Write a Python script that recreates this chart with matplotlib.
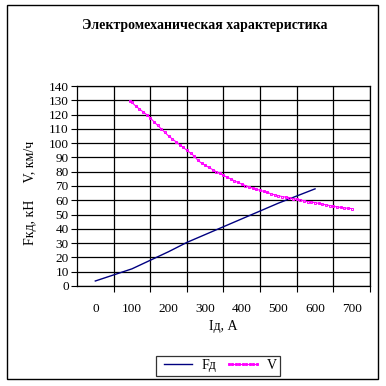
import matplotlib
matplotlib.use("Agg")
import matplotlib.pyplot as plt
from matplotlib.patches import Rectangle

plt.rcParams['font.family'] = ['Liberation Serif', 'DejaVu Serif']

# Fд, кН vs Iд, A
i_fd = [0, 100, 150, 200, 250, 300, 350, 400, 450, 500, 550, 600]
fd = [3.5, 12, 18, 24, 30.5, 36, 41.5, 47, 52.5, 58, 63, 68]

# V, км/ч vs Iд, A
i_v = [95, 100, 110, 120, 130, 140, 150, 160, 170, 180, 190, 200, 210, 220,
       230, 240, 250, 260, 270, 280, 290, 300, 310, 320, 330, 340, 350, 360,
       370, 380, 390, 400, 410, 420, 430, 440, 450, 460, 470, 480, 490, 500,
       510, 520, 530, 540, 550, 560, 570, 580, 590, 600, 610, 620, 630, 640,
       650, 660, 670, 680, 690, 700]
v = [129.4, 128.5, 126, 124, 122, 120, 117.7, 115, 112.5, 110, 107.5, 105,
     103, 101, 99, 97, 95, 93, 91, 88, 86, 84.5, 83, 81.5, 80, 78.8, 77.5, 76,
     75, 73.5, 72.5, 71.3, 70.3, 69.3, 68.5, 67.7, 67, 66.2, 65.5, 64.5, 63.8,
     63.2, 62.6, 62.2, 61.9, 61.2, 60.7, 60.2, 59.6, 59.1, 58.7, 58.4, 57.8,
     57.3, 56.8, 56.3, 55.8, 55.4, 55, 54.7, 54.4, 54.2]

x_labels = [0, 100, 200, 300, 400, 500, 600, 700]
x_grid = [50, 150, 250, 350, 450, 550, 650, 750]
y_ticks = list(range(0, 141, 10))

fig = plt.figure(figsize=(3.86, 3.86), dpi=100)
ax = fig.add_axes([0.1995, 0.2591, 0.759, 0.5181])

ax.plot(i_fd, fd, color='#000080', lw=1, label='Fд')
ax.plot(i_v, v, color='#ff00ff', lw=0.8, marker='s', ms=1.7,
        mfc='none', mew=0.7, label='V')

ax.set_xlim(-50, 750)
ax.set_ylim(0, 140)
ax.set_xticks(x_labels)
ax.set_xticks(x_grid, minor=True)
ax.set_yticks(y_ticks)
ax.tick_params(axis='x', which='major', length=0, labelsize=9.5, pad=12)
ax.tick_params(axis='x', which='minor', length=4, width=0.8, direction='out')
ax.tick_params(axis='y', length=4, width=0.8, direction='out', labelsize=9.5, pad=2)
ax.grid(True, axis='y', which='major', color='black', lw=0.9)
ax.grid(True, axis='x', which='minor', color='black', lw=0.9)
for s in ax.spines.values():
    s.set_linewidth(0.9)

ax.set_xlabel('Iд, А', fontsize=10, labelpad=4)
fig.text(0.078, 0.5, 'Fкд, кН     V, км/ч', rotation=90, fontsize=10,
         ha='center', va='center')
fig.text(0.53, 0.935, 'Электромеханическая характеристика', fontsize=10,
         fontweight='bold', ha='center', va='center')

leg = fig.legend(loc='center', bbox_to_anchor=(0.565, 0.053), ncol=2,
                 fontsize=10, numpoints=9, handlelength=2.6,
                 columnspacing=0.6, handletextpad=0.4, borderpad=0.25,
                 fancybox=False, frameon=True)
leg.get_frame().set_edgecolor('black')
leg.get_frame().set_linewidth(0.9)

fig.patches.append(Rectangle((0.018, 0.018), 0.961, 0.969, transform=fig.transFigure,
                             fill=False, edgecolor='black', lw=1))

fig.savefig('out.png', dpi=100)
